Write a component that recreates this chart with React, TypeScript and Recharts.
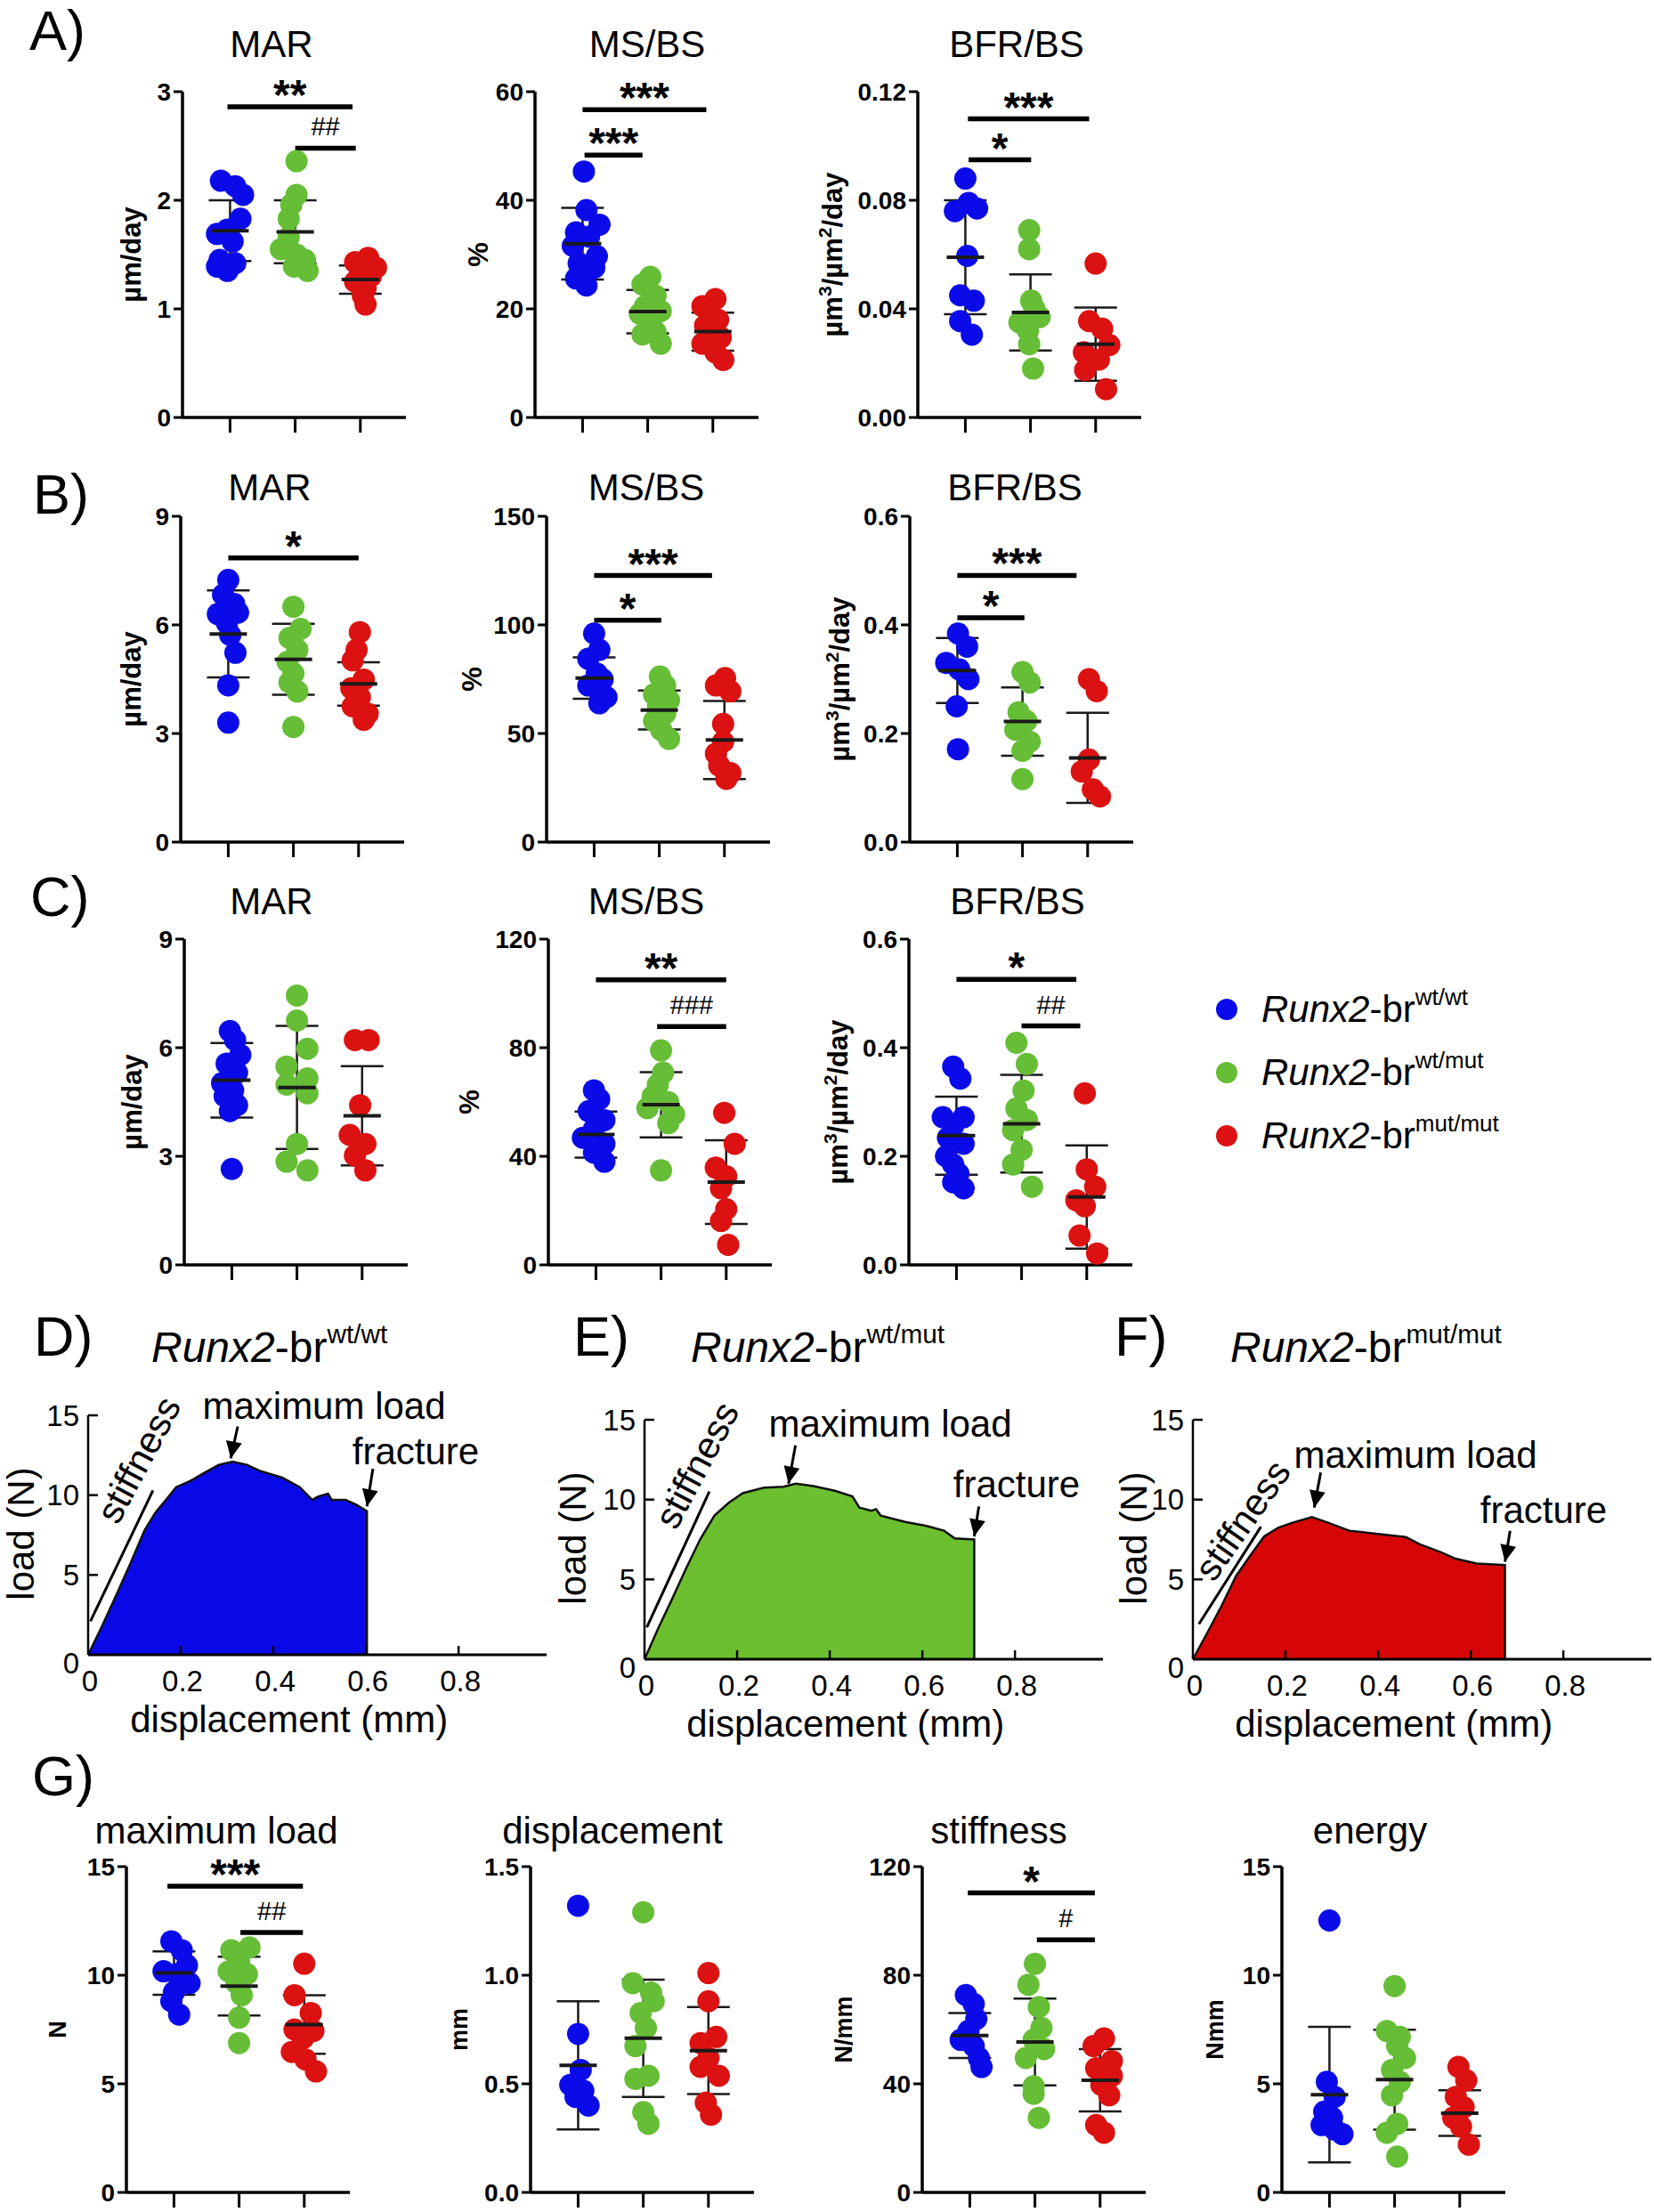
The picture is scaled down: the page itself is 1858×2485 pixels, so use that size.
import React from 'react';
import { ScatterChart, Scatter, XAxis, YAxis, ErrorBar, ReferenceLine, ReferenceDot, AreaChart, Area } from 'recharts';

const FONT = '"Liberation Sans", Arial, Helvetica, sans-serif';
const GROUP_COLORS = ['#0b0bea', '#66bd36', '#dc1111'];
const GROUPS = ['wt/wt', 'wt/mut', 'mut/mut'];

type Pt = [number, number]; // [jitter offset, value]
type Sig = [number, number, number, string]; // [x1, x2, y, label]

// ---- A) MAR / MS/BS / BFR/BS ----
const aMarWt: Pt[] = [[-0.14, 2.18], [0.08, 2.13], [0.2, 2.05], [0.16, 1.83], [-0.04, 1.73], [-0.2, 1.69], [0.04, 1.62], [-0.16, 1.45], [0.08, 1.42], [-0.2, 1.39], [-0.04, 1.35]];
const aMarHet: Pt[] = [[0.02, 2.36], [0.02, 2.05], [-0.06, 1.96], [-0.1, 1.83], [-0.1, 1.66], [-0.22, 1.55], [0.02, 1.5], [0.15, 1.45], [-0.02, 1.39], [0.19, 1.35]];
const aMarMut: Pt[] = [[0.12, 1.47], [-0.08, 1.43], [0.24, 1.38], [0, 1.34], [0.16, 1.3], [-0.08, 1.25], [0.08, 1.19], [0.04, 1.12], [0.08, 1.04]];
const aMarMean = [1.72, 1.71, 1.27];
const aMarSd = [0.28, 0.29, 0.13];
const aMarSig: Sig[] = [[0.96, 2.88, 2.86, '**'], [2.0, 2.93, 2.48, '##']];

const aMsWt: Pt[] = [[0.02, 45.3], [0.06, 38.2], [0.26, 35.5], [-0.1, 34.1], [0.1, 33.3], [-0.15, 31.6], [0.22, 29.7], [-0.06, 28.4], [0.18, 27.6], [-0.1, 25.6], [0.06, 24.3]];
const aMsHet: Pt[] = [[0.04, 25.9], [-0.08, 24.5], [0.12, 22.4], [-0.04, 20.5], [0.2, 19.6], [-0.12, 19.1], [0.04, 17.7], [0.12, 15.8], [-0.08, 15.3], [0.2, 13.6]];
const aMsMut: Pt[] = [[0.04, 21.8], [-0.16, 20.5], [0.08, 18.0], [-0.12, 16.9], [0.12, 14.7], [-0.16, 13.6], [0.04, 12.0], [0.16, 10.6]];
const aMsMean = [32, 19.5, 15.8];
const aMsSd = [6.6, 4, 3.5];
const aMsSig: Sig[] = [[1.0, 2.9, 56.7, '***'], [1.03, 1.92, 48.3, '***']];

const aBfrWt: Pt[] = [[0, 0.088], [-0.16, 0.076], [0.05, 0.079], [0.18, 0.077], [0.03, 0.0595], [-0.08, 0.045], [0.13, 0.043], [-0.08, 0.0355], [0.1, 0.0305]];
const aBfrHet: Pt[] = [[-0.02, 0.069], [-0.02, 0.062], [0.01, 0.043], [0.06, 0.04], [-0.17, 0.035], [0.14, 0.037], [-0.04, 0.032], [-0.02, 0.027], [0.04, 0.018]];
const aBfrMut: Pt[] = [[0, 0.0567], [-0.1, 0.0355], [0.1, 0.0327], [0.21, 0.0267], [-0.18, 0.024], [0.05, 0.0213], [-0.16, 0.0175], [0.16, 0.0104]];
const aBfrMean = [0.059, 0.0387, 0.027];
const aBfrSd = [0.021, 0.014, 0.0135];
const aBfrSig: Sig[] = [[1.04, 2.9, 0.11, '***'], [1.05, 2.01, 0.0949, '*']];

// ---- B) ----
const bMarWt: Pt[] = [[0, 7.24], [-0.08, 6.83], [0.09, 6.58], [0.15, 6.34], [-0.16, 6.3], [-0.02, 6.05], [0.03, 5.72], [0.11, 5.23], [0, 4.33], [0, 3.3]];
const bMarHet: Pt[] = [[0, 6.5], [0.11, 5.89], [-0.06, 5.64], [0.06, 5.31], [-0.09, 4.98], [0, 4.66], [-0.06, 4.41], [0.06, 4.16], [0, 3.18]];
const bMarMut: Pt[] = [[0.02, 5.8], [-0.03, 5.31], [-0.09, 5.02], [0.08, 4.49], [-0.11, 4.25], [0.02, 4.0], [-0.09, 3.75], [0.14, 3.55], [0.08, 3.38]];
const bMarMean = [5.75, 5.05, 4.37];
const bMarSd = [1.2, 0.98, 0.6];
const bMarSig: Sig[] = [[1.0, 3.0, 7.85, '*']];

const bMsWt: Pt[] = [[0, 96], [0.08, 88.5], [-0.09, 84.4], [0.04, 77.6], [0.13, 74.9], [-0.09, 72.1], [0.08, 69.4], [0.19, 66.7], [0.08, 63.9]];
const bMsHet: Pt[] = [[0.01, 76.2], [0.09, 72.1], [-0.08, 68], [0.15, 65.3], [-0.02, 62.6], [0.09, 59.2], [-0.08, 55.7], [0.03, 51.6], [0.15, 47.5]];
const bMsMut: Pt[] = [[0.01, 75.5], [-0.13, 72.1], [0.09, 69.4], [-0.02, 54.4], [-0.02, 46.2], [-0.13, 40.7], [-0.08, 35.2], [0.09, 31.8], [0.03, 29.1]];
const bMsMean = [75.5, 60.8, 47];
const bMsSd = [9.5, 9, 18];
const bMsSig: Sig[] = [[1.0, 2.81, 122.7, '***'], [1.0, 2.03, 102.2, '*']];

const bBfrWt: Pt[] = [[0.01, 0.384], [0.15, 0.36], [-0.17, 0.33], [0.03, 0.318], [0.17, 0.3], [-0.01, 0.25], [0.01, 0.171]];
const bBfrHet: Pt[] = [[0, 0.313], [0.11, 0.294], [-0.06, 0.239], [0.06, 0.223], [-0.11, 0.207], [0.11, 0.185], [0, 0.168], [0, 0.116]];
const bBfrMut: Pt[] = [[0.02, 0.3], [0.14, 0.278], [0.02, 0.152], [-0.09, 0.13], [0.08, 0.097], [0.19, 0.084]];
const bBfrMean = [0.316, 0.222, 0.155];
const bBfrSd = [0.06, 0.063, 0.083];
const bBfrSig: Sig[] = [[1.0, 2.83, 0.491, '***'], [1.0, 2.03, 0.413, '*']];

// ---- C) ----
const cMarWt: Pt[] = [[-0.03, 6.46], [0.05, 6.21], [0.13, 5.8], [-0.08, 5.56], [0.08, 5.31], [-0.15, 5.02], [0.02, 4.82], [-0.11, 4.66], [0.08, 4.41], [-0.03, 4.25], [0, 2.65]];
const cMarHet: Pt[] = [[0, 7.44], [0, 6.75], [0.16, 5.97], [-0.16, 5.48], [0.16, 5.15], [-0.16, 4.98], [0.16, 4.74], [0, 3.34], [-0.16, 2.85], [0.16, 2.61]];
const cMarMut: Pt[] = [[-0.11, 6.21], [0.1, 6.21], [-0.03, 4.41], [-0.19, 3.59], [0.05, 3.34], [-0.11, 3.02], [0.05, 2.61]];
const cMarMean = [5.1, 4.9, 4.12];
const cMarSd = [1.03, 1.7, 1.37];
const cMarSig: Sig[] = [];

const cMsWt: Pt[] = [[-0.03, 64.3], [0.05, 61], [-0.11, 56.6], [0.13, 53.3], [-0.03, 50], [-0.2, 46.8], [0.13, 44.6], [-0.03, 41.3], [0.13, 38]];
const cMsHet: Pt[] = [[0, 79], [0.03, 70.8], [-0.05, 66.4], [-0.13, 62], [0.11, 59.9], [-0.21, 57.7], [0.2, 55.5], [0.11, 52.2], [0, 34.8]];
const cMsMut: Pt[] = [[-0.03, 56], [0.13, 44.6], [-0.16, 35.8], [0, 32.6], [-0.08, 28.2], [0, 20.5], [-0.08, 16.2], [0.03, 7.4]];
const cMsMean = [48, 59, 30.5];
const cMsSd = [8.5, 12, 15.4];
const cMsSig: Sig[] = [[1.0, 3.0, 105, '**'], [1.94, 3.0, 87.8, '###']];

const cBfrWt: Pt[] = [[-0.05, 0.365], [0.06, 0.343], [-0.21, 0.272], [0.11, 0.272], [-0.05, 0.256], [-0.13, 0.234], [0.11, 0.223], [-0.16, 0.2], [-0.05, 0.185], [0.03, 0.168], [-0.05, 0.152], [0.11, 0.141]];
const cBfrHet: Pt[] = [[-0.08, 0.409], [0.08, 0.37], [0.03, 0.321], [-0.08, 0.288], [0.08, 0.267], [-0.13, 0.248], [0, 0.212], [-0.13, 0.185], [0.16, 0.144]];
const cBfrMut: Pt[] = [[-0.03, 0.316], [0, 0.176], [0.13, 0.144], [-0.16, 0.119], [-0.03, 0.108], [-0.11, 0.054], [0.16, 0.021]];
const cBfrMean = [0.238, 0.26, 0.125];
const cBfrSd = [0.072, 0.09, 0.095];
const cBfrSig: Sig[] = [[1.0, 2.84, 0.526, '*'], [2.0, 2.9, 0.44, '##']];

// ---- G) biomechanics ----
const gLoadWt: Pt[] = [[-0.04, 11.56], [0.12, 11.15], [0.2, 10.46], [-0.16, 10.18], [0.04, 10.05], [0.24, 9.63], [0, 9.22], [-0.04, 8.8], [0.08, 8.19]];
const gLoadHet: Pt[] = [[-0.12, 11.15], [0.16, 11.28], [0, 10.6], [-0.16, 10.18], [0.12, 10.05], [-0.04, 9.63], [0.04, 9.08], [0, 8.05], [0, 6.88]];
const gLoadMut: Pt[] = [[0, 10.53], [-0.15, 9.08], [0.1, 8.26], [-0.15, 7.5], [0.14, 7.43], [-0.02, 7.09], [-0.19, 6.47], [0.02, 6.12], [0.18, 5.57]];
const gLoadMean = [10.1, 9.5, 7.73];
const gLoadSd = [1.0, 1.35, 1.35];
const gLoadSig: Sig[] = [[0.9, 2.98, 14.1, '***'], [2.02, 2.98, 11.97, '##']];

const gDispWt: Pt[] = [[0, 1.32], [0, 0.73], [0.04, 0.564], [-0.12, 0.495], [0.08, 0.468], [-0.04, 0.44], [0.16, 0.4]];
const gDispHet: Pt[] = [[0, 1.29], [-0.16, 0.963], [0.12, 0.92], [0.16, 0.88], [-0.04, 0.826], [0.04, 0.757], [-0.12, 0.674], [0.08, 0.537], [-0.12, 0.523], [0, 0.37], [0.08, 0.316]];
const gDispMut: Pt[] = [[0, 1.01], [0, 0.88], [0.12, 0.716], [-0.12, 0.688], [0, 0.619], [-0.12, 0.578], [0.16, 0.537], [-0.04, 0.413], [0.04, 0.358]];
const gDispMean = [0.585, 0.71, 0.653];
const gDispSd = [0.295, 0.27, 0.2];
const gDispSig: Sig[] = [];

const gStiffWt: Pt[] = [[-0.06, 72.7], [0.06, 69.4], [0.1, 63.9], [-0.02, 59.5], [-0.14, 56.2], [0.06, 53.9], [0.14, 49.5], [0.18, 46.2]];
const gStiffHet: Pt[] = [[0, 84.2], [-0.1, 76.5], [0.06, 68.3], [0.1, 60.6], [-0.02, 56.2], [0.14, 52.8], [-0.14, 49.5], [-0.02, 39.1], [-0.02, 36.3], [0.06, 27.5]];
const gStiffMut: Pt[] = [[0.06, 56.7], [-0.1, 53.9], [0.18, 48.4], [-0.06, 45.7], [0.18, 42.9], [0.02, 39.6], [0.14, 35.8], [-0.06, 24.8], [0.06, 22]];
const gStiffMean = [57.8, 55.4, 41.3];
const gStiffSd = [8.3, 16, 11.5];
const gStiffSig: Sig[] = [[0.97, 2.92, 110.3, '*'], [2.03, 2.92, 93, '#']];

const gEnergyWt: Pt[] = [[0, 12.52], [-0.04, 5.09], [0.08, 4.4], [-0.08, 3.72], [0.04, 3.44], [-0.12, 3.1], [0.08, 2.89], [0.2, 2.68]];
const gEnergyHet: Pt[] = [[0, 9.5], [-0.12, 7.43], [0.08, 7.16], [0.04, 6.74], [0.16, 6.19], [-0.04, 5.64], [0.08, 5.09], [-0.04, 4.47], [0.04, 3.16], [-0.12, 2.75], [0.04, 1.65]];
const gEnergyMut: Pt[] = [[-0.02, 5.78], [0.1, 5.16], [-0.06, 4.4], [0.06, 3.92], [-0.1, 3.44], [0.02, 3.03], [0.14, 2.2]];
const gEnergyMean = [4.5, 5.19, 3.65];
const gEnergySd = [3.12, 2.3, 1.05];
const gEnergySig: Sig[] = [];

// ---- D-F) load / displacement curves ----
const wtDisp = [0, 0.03, 0.061, 0.091, 0.122, 0.145, 0.168, 0.19, 0.221, 0.251, 0.282, 0.312, 0.343, 0.373, 0.419, 0.457, 0.484, 0.496, 0.518, 0.526, 0.556, 0.579, 0.602, 0.602];
const wtLoad = [0, 1.8, 3.75, 5.7, 7.8, 8.9, 9.7, 10.5, 10.9, 11.4, 11.9, 12.1, 11.9, 11.5, 11.1, 10.5, 9.7, 9.9, 10.1, 9.7, 9.7, 9.4, 9.0, 0];
const hetDisp = [0, 0.029, 0.06, 0.09, 0.12, 0.151, 0.182, 0.212, 0.258, 0.3, 0.327, 0.365, 0.411, 0.449, 0.464, 0.49, 0.5, 0.51, 0.563, 0.609, 0.647, 0.67, 0.712, 0.712];
const hetLoad = [0, 1.9, 3.8, 5.7, 7.5, 9.0, 9.8, 10.4, 10.75, 10.8, 11.0, 10.85, 10.55, 10.2, 9.5, 9.3, 9.4, 9.0, 8.6, 8.35, 8.05, 7.57, 7.5, 0];
const mutDisp = [0, 0.032, 0.063, 0.093, 0.124, 0.154, 0.185, 0.215, 0.257, 0.292, 0.338, 0.399, 0.46, 0.49, 0.536, 0.567, 0.613, 0.674, 0.674];
const mutLoad = [0, 1.7, 3.4, 5.2, 6.5, 7.7, 8.25, 8.55, 8.9, 8.55, 8.05, 7.85, 7.65, 7.2, 6.7, 6.3, 6.0, 5.9, 0];
const curveXTicks = [0, 0.2, 0.4, 0.6, 0.8];
const curveYTicks = [0, 5, 10, 15];

// annotation anchors in data units: [x1, y1, x2, y2]
const wtStiff = [0.005, 2.1, 0.14, 10.3];
const hetStiff = [0.005, 2.0, 0.14, 10.5];
const mutStiff = [0.013, 2.2, 0.147, 8.3];
const wtMaxArrow = [0.323, 14.3, 0.308, 12.3];
const hetMaxArrow = [0.326, 13.4, 0.311, 11.0];
const mutMaxArrow = [0.276, 11.7, 0.262, 9.5];
const wtFracArrow = [0.615, 11.66, 0.602, 9.3];
const hetFracArrow = [0.722, 9.57, 0.712, 7.7];
const mutFracArrow = [0.685, 8.05, 0.674, 6.1];

// ---------- layout ----------
const YW = 74;
const MT = 40;
const PH = 366;
const XH = 20;
const MB = 4;
const PW = 251;
const MR = 12;
const W = YW + PW + MR;
const H = MT + PH + XH + MB;

interface PanelCfg {
  title: string;
  unit: string;
  yMax: number;
  ticks: number[];
  digits: number;
  groups: Pt[][];
  mean: number[];
  sd: number[];
  sig: Sig[];
  axisX: number;
  top: number;
  titleX: number;
  titleY: number;
  labelDx: number;
  labelSize: number;
}

const t4 = (m: number) => [0, m / 3, (2 * m) / 3, m];

const panels: PanelCfg[] = [
  { title: 'MAR', unit: 'µm/day', yMax: 3, ticks: t4(3), digits: 0, groups: [aMarWt, aMarHet, aMarMut], mean: aMarMean, sd: aMarSd, sig: aMarSig, axisX: 205, top: 103, titleX: 305, titleY: 50, labelDx: 58, labelSize: 31 },
  { title: 'MS/BS', unit: '%', yMax: 60, ticks: t4(60), digits: 0, groups: [aMsWt, aMsHet, aMsMut], mean: aMsMean, sd: aMsSd, sig: aMsSig, axisX: 601, top: 103, titleX: 727, titleY: 50, labelDx: 64, labelSize: 31 },
  { title: 'BFR/BS', unit: 'BFR', yMax: 0.12, ticks: t4(0.12), digits: 2, groups: [aBfrWt, aBfrHet, aBfrMut], mean: aBfrMean, sd: aBfrSd, sig: aBfrSig, axisX: 1031, top: 103, titleX: 1142, titleY: 50, labelDx: 96, labelSize: 31 },

  { title: 'MAR', unit: 'µm/day', yMax: 9, ticks: t4(9), digits: 0, groups: [bMarWt, bMarHet, bMarMut], mean: bMarMean, sd: bMarSd, sig: bMarSig, axisX: 203, top: 580, titleX: 303, titleY: 548, labelDx: 56, labelSize: 31 },
  { title: 'MS/BS', unit: '%', yMax: 150, ticks: t4(150), digits: 0, groups: [bMsWt, bMsHet, bMsMut], mean: bMsMean, sd: bMsSd, sig: bMsSig, axisX: 614, top: 580, titleX: 726, titleY: 548, labelDx: 84, labelSize: 31 },
  { title: 'BFR/BS', unit: 'BFR', yMax: 0.6, ticks: t4(0.6), digits: 1, groups: [bBfrWt, bBfrHet, bBfrMut], mean: bBfrMean, sd: bBfrSd, sig: bBfrSig, axisX: 1022, top: 580, titleX: 1140, titleY: 548, labelDx: 79, labelSize: 31 },

  { title: 'MAR', unit: 'µm/day', yMax: 9, ticks: t4(9), digits: 0, groups: [cMarWt, cMarHet, cMarMut], mean: cMarMean, sd: cMarSd, sig: cMarSig, axisX: 207, top: 1055, titleX: 305, titleY: 1013, labelDx: 59, labelSize: 31 },
  { title: 'MS/BS', unit: '%', yMax: 120, ticks: t4(120), digits: 0, groups: [cMsWt, cMsHet, cMsMut], mean: cMsMean, sd: cMsSd, sig: cMsSig, axisX: 616, top: 1055, titleX: 726, titleY: 1013, labelDx: 89, labelSize: 31 },
  { title: 'BFR/BS', unit: 'BFR', yMax: 0.6, ticks: t4(0.6), digits: 1, groups: [cBfrWt, cBfrHet, cBfrMut], mean: cBfrMean, sd: cBfrSd, sig: cBfrSig, axisX: 1021, top: 1055, titleX: 1143, titleY: 1013, labelDx: 80, labelSize: 31 },

  { title: 'maximum load', unit: 'N', yMax: 15, ticks: t4(15), digits: 0, groups: [gLoadWt, gLoadHet, gLoadMut], mean: gLoadMean, sd: gLoadSd, sig: gLoadSig, axisX: 142, top: 2097, titleX: 243, titleY: 2057, labelDx: 77, labelSize: 27 },
  { title: 'displacement', unit: 'mm', yMax: 1.5, ticks: t4(1.5), digits: 1, groups: [gDispWt, gDispHet, gDispMut], mean: gDispMean, sd: gDispSd, sig: gDispSig, axisX: 596, top: 2097, titleX: 688, titleY: 2057, labelDx: 80, labelSize: 27 },
  { title: 'stiffness', unit: 'N/mm', yMax: 120, ticks: t4(120), digits: 0, groups: [gStiffWt, gStiffHet, gStiffMut], mean: gStiffMean, sd: gStiffSd, sig: gStiffSig, axisX: 1036, top: 2097, titleX: 1122, titleY: 2057, labelDx: 88, labelSize: 27 },
  { title: 'energy', unit: 'Nmm', yMax: 15, ticks: t4(15), digits: 0, groups: [gEnergyWt, gEnergyHet, gEnergyMut], mean: gEnergyMean, sd: gEnergySd, sig: gEnergySig, axisX: 1440, top: 2097, titleX: 1539, titleY: 2057, labelDx: 75, labelSize: 27 },
];

const UnitSup = ({ children }: { children: React.ReactNode }) => (
  <span style={{ fontSize: '0.68em', position: 'relative', top: '-0.55em' }}>{children}</span>
);

const unitNode = (u: string) =>
  u === 'BFR' ? (
    <>
      µm<UnitSup>3</UnitSup>/µm<UnitSup>2</UnitSup>/day
    </>
  ) : (
    u
  );

function DotPanel({ p }: { p: PanelCfg }) {
  const series = p.groups.map((g, gi) => g.map(([dx, v]) => ({ x: gi + 1 + dx, y: v })));
  const stats = p.mean.map((m, i) => ({ x: i + 1, y: m, e: p.sd[i] }));
  return (
    <>
      <div style={{ position: 'absolute', left: p.axisX - YW, top: p.top - MT }}>
        <ScatterChart width={W} height={H} margin={{ top: MT, right: MR, bottom: MB, left: 0 }}>
          <XAxis
            type="number"
            dataKey="x"
            domain={[0.27, 3.7]}
            ticks={[1, 2, 3]}
            tickFormatter={() => ''}
            tickSize={17}
            height={XH}
            axisLine={{ stroke: '#000', strokeWidth: 3.5 }}
            tickLine={{ stroke: '#000', strokeWidth: 3 }}
            allowDataOverflow
          />
          <YAxis
            type="number"
            dataKey="y"
            domain={[0, p.yMax]}
            ticks={p.ticks}
            tickFormatter={(v: number) => v.toFixed(p.digits)}
            width={YW}
            tickSize={10}
            tickMargin={3}
            axisLine={{ stroke: '#000', strokeWidth: 3.5 }}
            tickLine={{ stroke: '#000', strokeWidth: 3 }}
            tick={{ fill: '#000', fontSize: 28, fontWeight: 700, fontFamily: FONT }}
            allowDataOverflow
          />
          {series.map((d, gi) => (
            <Scatter
              key={gi}
              data={d}
              isAnimationActive={false}
              shape={(s: any) => <circle cx={s.cx} cy={s.cy} r={12.5} fill={GROUP_COLORS[gi]} />}
            />
          ))}
          <Scatter
            data={stats}
            isAnimationActive={false}
            shape={(s: any) => (
              <line x1={s.cx - 21} x2={s.cx + 21} y1={s.cy} y2={s.cy} stroke="#1a1a1a" strokeWidth={4} />
            )}
          >
            <ErrorBar dataKey="e" direction="y" width={24} stroke="#1a1a1a" strokeWidth={2.5} />
          </Scatter>
          {p.sig.map(([x1, x2, y, lab], i) => {
            const star = lab.includes('*');
            return (
              <ReferenceLine
                key={i}
                segment={[{ x: x1, y }, { x: x2, y }]}
                stroke="#000"
                strokeWidth={5.5}
                ifOverflow="visible"
                label={{
                  value: lab,
                  position: 'top',
                  offset: star ? -3 : 14,
                  fill: '#000',
                  fontSize: star ? 48 : 29,
                  fontWeight: star ? 700 : 400,
                  fontFamily: FONT,
                }}
              />
            );
          })}
        </ScatterChart>
      </div>
      <div style={{ position: 'absolute', left: p.titleX, top: p.titleY - 21, transform: 'translateX(-50%)', fontSize: 42, lineHeight: 1, whiteSpace: 'nowrap' }}>
        {p.title}
      </div>
      <div
        style={{
          position: 'absolute',
          left: p.axisX - p.labelDx,
          top: p.top + PH / 2,
          transform: 'translate(-50%, -50%) rotate(-90deg)',
          fontSize: p.labelSize,
          fontWeight: 700,
          lineHeight: 1,
          whiteSpace: 'nowrap',
        }}
      >
        {unitNode(p.unit)}
      </div>
    </>
  );
}

// ---------- curve panels ----------
const CYW = 60;
const CMT = 20;
const CPH = 269;
const CXH = 60;
const CPW = 515;
const CMR = 3;
const CW = CYW + CPW + CMR;
const CH = CMT + CPH + CXH;
const AXIS_Y = CMT + CPH;

const XTickIn = (props: any) => {
  const { x, payload } = props;
  const v = payload.value as number;
  return (
    <g>
      {v !== 0 && <line x1={x} x2={x} y1={AXIS_Y} y2={AXIS_Y - 10} stroke="#000" strokeWidth={2.5} />}
      <text x={x + 2} y={AXIS_Y + 29} textAnchor="middle" dominantBaseline="central" fontSize={33} fontFamily={FONT} fill="#000">
        {String(v)}
      </text>
    </g>
  );
};

const YTickIn = (props: any) => {
  const { y, payload } = props;
  const v = payload.value as number;
  return (
    <g>
      {v !== 0 && <line x1={CYW} x2={CYW + 11} y1={y} y2={y} stroke="#000" strokeWidth={2.5} />}
      <text x={CYW - 10} y={y + (v === 0 ? 9 : 0)} textAnchor="end" dominantBaseline="central" fontSize={33} fontFamily={FONT} fill="#000">
        {String(v)}
      </text>
    </g>
  );
};

interface CurveCfg {
  letter: string;
  geno: string;
  fill: string;
  disp: number[];
  load: number[];
  stiff: number[];
  maxArrow: number[];
  fracArrow: number[];
  axisX: number;
  top: number;
  letterX: number;
  titleX: number;
  maxText: [number, number];
  fracText: [number, number];
  stiffText: [number, number, number];
  loadLabelX: number;
}

const curves: CurveCfg[] = [
  { letter: 'D)', geno: 'wt/wt', fill: '#0a0ae8', disp: wtDisp, load: wtLoad, stiff: wtStiff, maxArrow: wtMaxArrow, fracArrow: wtFracArrow, axisX: 99, top: 1590, letterX: 38, titleX: 170, maxText: [364, 1580], fracText: [467, 1631], stiffText: [156, 1640, -62], loadLabelX: 24 },
  { letter: 'E)', geno: 'wt/mut', fill: '#6cbf2e', disp: hetDisp, load: hetLoad, stiff: hetStiff, maxArrow: hetMaxArrow, fracArrow: hetFracArrow, axisX: 724, top: 1595, letterX: 644, titleX: 776, maxText: [1000, 1600], fracText: [1142, 1668], stiffText: [783, 1646, -62], loadLabelX: 644 },
  { letter: 'F)', geno: 'mut/mut', fill: '#d60606', disp: mutDisp, load: mutLoad, stiff: mutStiff, maxArrow: mutMaxArrow, fracArrow: mutFracArrow, axisX: 1340, top: 1595, letterX: 1252, titleX: 1382, maxText: [1590, 1635], fracText: [1734, 1697], stiffText: [1396, 1708, -55], loadLabelX: 1274 },
];

const arrowHead = (s: any) => (
  <polygon
    points={`${s.cx - 9},${s.cy - 19} ${s.cx + 9},${s.cy - 19} ${s.cx},${s.cy}`}
    fill="#000"
    transform={`rotate(11 ${s.cx} ${s.cy})`}
  />
);

const Sup = ({ children }: { children: React.ReactNode }) => (
  <span style={{ fontSize: '0.62em', position: 'relative', top: '-0.72em' }}>{children}</span>
);

const Geno = ({ g }: { g: string }) => (
  <>
    <span style={{ fontStyle: 'italic' }}>Runx2</span>-br<Sup>{g}</Sup>
  </>
);

function CurvePanel({ c }: { c: CurveCfg }) {
  const data = c.disp.map((d, i) => ({ d, load: c.load[i] }));
  const seg = (a: number[]) => [{ x: a[0], y: a[1] }, { x: a[2], y: a[3] }];
  const midX = c.axisX + CPW * 0.45;
  return (
    <>
      <div style={{ position: 'absolute', left: c.axisX - CYW, top: c.top - CMT }}>
        <AreaChart width={CW} height={CH} data={data} margin={{ top: CMT, right: CMR, bottom: 0, left: 0 }}>
          <XAxis
            type="number"
            dataKey="d"
            domain={[0, 0.99]}
            ticks={curveXTicks}
            height={CXH}
            axisLine={{ stroke: '#000', strokeWidth: 3 }}
            tickLine={false}
            tick={<XTickIn />}
            allowDataOverflow
          />
          <YAxis
            type="number"
            domain={[0, 15]}
            ticks={curveYTicks}
            width={CYW}
            axisLine={{ stroke: '#000', strokeWidth: 2.5 }}
            tickLine={false}
            tick={<YTickIn />}
            allowDataOverflow
          />
          <Area
            type="linear"
            dataKey="load"
            stroke="#111"
            strokeWidth={2.5}
            fill={c.fill}
            fillOpacity={1}
            dot={false}
            activeDot={false}
            isAnimationActive={false}
          />
          <ReferenceLine segment={seg(c.stiff)} stroke="#000" strokeWidth={3} ifOverflow="visible" />
          <ReferenceLine segment={seg(c.maxArrow)} stroke="#000" strokeWidth={3} ifOverflow="visible" />
          <ReferenceLine segment={seg(c.fracArrow)} stroke="#000" strokeWidth={3} ifOverflow="visible" />
          <ReferenceDot x={c.maxArrow[2]} y={c.maxArrow[3]} ifOverflow="visible" shape={arrowHead} />
          <ReferenceDot x={c.fracArrow[2]} y={c.fracArrow[3]} ifOverflow="visible" shape={arrowHead} />
        </AreaChart>
      </div>
      <div style={{ position: 'absolute', left: c.letterX, top: 1470, fontSize: 63, lineHeight: 1 }}>{c.letter}</div>
      <div style={{ position: 'absolute', left: c.titleX, top: 1490, fontSize: 48, lineHeight: 1, whiteSpace: 'nowrap' }}>
        <Geno g={c.geno} />
      </div>
      <div style={{ position: 'absolute', left: c.maxText[0], top: c.maxText[1], transform: 'translate(-50%, -50%)', fontSize: 42, lineHeight: 1, whiteSpace: 'nowrap' }}>
        maximum load
      </div>
      <div style={{ position: 'absolute', left: c.fracText[0], top: c.fracText[1], transform: 'translate(-50%, -50%)', fontSize: 42, lineHeight: 1, whiteSpace: 'nowrap' }}>
        fracture
      </div>
      <div
        style={{
          position: 'absolute',
          left: c.stiffText[0],
          top: c.stiffText[1],
          transform: `translate(-50%, -50%) rotate(${c.stiffText[2]}deg)`,
          fontSize: 42,
          lineHeight: 1,
          whiteSpace: 'nowrap',
        }}
      >
        stiffness
      </div>
      <div
        style={{
          position: 'absolute',
          left: c.loadLabelX,
          top: c.top + CPH / 2 - 2,
          transform: 'translate(-50%, -50%) rotate(-90deg)',
          fontSize: 42,
          lineHeight: 1,
          whiteSpace: 'nowrap',
        }}
      >
        load (N)
      </div>
      <div style={{ position: 'absolute', left: midX - 6, top: c.top + CPH + 73, transform: 'translate(-50%, -50%)', fontSize: 42, lineHeight: 1, whiteSpace: 'nowrap' }}>
        displacement (mm)
      </div>
    </>
  );
}

const letterStyle: React.CSSProperties = { position: 'absolute', fontSize: 63, lineHeight: 1 };

export default function App() {
  return (
    <div
      style={{
        position: 'absolute',
        left: 0,
        top: 0,
        width: 1858,
        height: 2485,
        background: '#fff',
        overflow: 'hidden',
        fontFamily: FONT,
        color: '#000',
      }}
    >
      <div style={{ ...letterStyle, left: 33, top: 3 }}>A)</div>
      <div style={{ ...letterStyle, left: 37, top: 524 }}>B)</div>
      <div style={{ ...letterStyle, left: 34, top: 976 }}>C)</div>
      <div style={{ ...letterStyle, left: 36, top: 1964 }}>G)</div>

      {panels.map((p, i) => (
        <DotPanel key={i} p={p} />
      ))}
      {curves.map((c, i) => (
        <CurvePanel key={i} c={c} />
      ))}

      {GROUPS.map((g, i) => (
        <React.Fragment key={g}>
          <div
            style={{
              position: 'absolute',
              left: 1366,
              top: 1122 + i * 71,
              width: 24,
              height: 24,
              borderRadius: '50%',
              background: GROUP_COLORS[i],
            }}
          />
          <div style={{ position: 'absolute', left: 1417, top: 1113 + i * 71, fontSize: 42, lineHeight: 1, whiteSpace: 'nowrap' }}>
            <Geno g={g} />
          </div>
        </React.Fragment>
      ))}
    </div>
  );
}
